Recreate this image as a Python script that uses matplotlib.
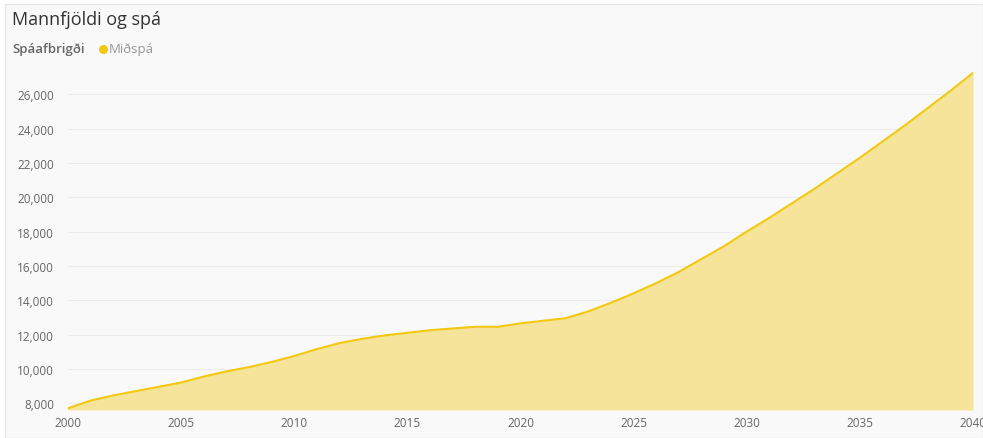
import matplotlib
matplotlib.use("Agg")
import matplotlib.pyplot as plt
from matplotlib.patches import Rectangle
from matplotlib.lines import Line2D
from matplotlib.ticker import FuncFormatter

years = list(range(2000, 2041))
population = [7700, 8150, 8450, 8700, 8950, 9200, 9550, 9850, 10100, 10400,
              10750, 11150, 11500, 11750, 11950, 12100, 12250, 12350, 12450, 12450,
              12650, 12800, 12950, 13350, 13850, 14400, 15000, 15650, 16400, 17150,
              18000, 18800, 19650, 20500, 21400, 22300, 23250, 24200, 25200, 26200,
              27250]
yticks = list(range(8000, 26001, 2000))
xticks = list(range(2000, 2041, 5))

title = "Mannfjöldi og spá"
legend_title = "Spáafbrigði"
series_name = "Miðspá"

line_color = "#f2c811"
fill_color = "#f6e49b"
bg = "#f9f9f9"

plt.rcParams['font.family'] = ['Open Sans', 'DejaVu Sans']

fig = plt.figure(figsize=(9.83, 4.39), dpi=100)
fig.patch.set_facecolor("white")
fig.patches.append(Rectangle((5/983, 0), 1 - 5/983, 1 - 5/439, transform=fig.transFigure,
                             facecolor=bg, edgecolor="#e6e6e6", linewidth=1.0, zorder=-10))

ax = fig.add_axes([68/983, 1 - 411/439, (973 - 68)/983, (411 - 73)/439])
ax.set_facecolor(bg)
ax.fill_between(years, population, 7600, color=fill_color, linewidth=0, zorder=2)
ax.plot(years, population, color=line_color, linewidth=1.5, zorder=3)

ax.set_xlim(2000, 2040)
ax.set_ylim(7600, 27300)
ax.set_xticks(xticks)
ax.set_yticks(yticks)
ax.yaxis.set_major_formatter(FuncFormatter(lambda v, p: f"{int(v):,}"))
ax.grid(axis='y', color="#ececec", linewidth=0.8, zorder=0)
ax.grid(axis='x', visible=False)
for s in ax.spines.values():
    s.set_visible(False)
ax.tick_params(axis='both', length=0, labelsize=8.5, colors="#666666")
ax.tick_params(axis='y', pad=10)
ax.tick_params(axis='x', pad=4)

fig.text(12/983, 1 - 20/439, title, fontsize=13, color="#333333", va='center', ha='left')
fig.text(12/983, 1 - 50/439, legend_title, fontsize=9.5, color="#666666", va='center', ha='left',
         fontweight='semibold')
fig.lines.append(Line2D([103/983], [1 - 50/439], transform=fig.transFigure, marker='o',
                        markersize=5.5, color=line_color, linestyle='none'))
fig.text(109/983, 1 - 50/439, series_name, fontsize=9.5, color="#999999", va='center', ha='left')

fig.savefig("out.png", dpi=100, facecolor=fig.get_facecolor())
